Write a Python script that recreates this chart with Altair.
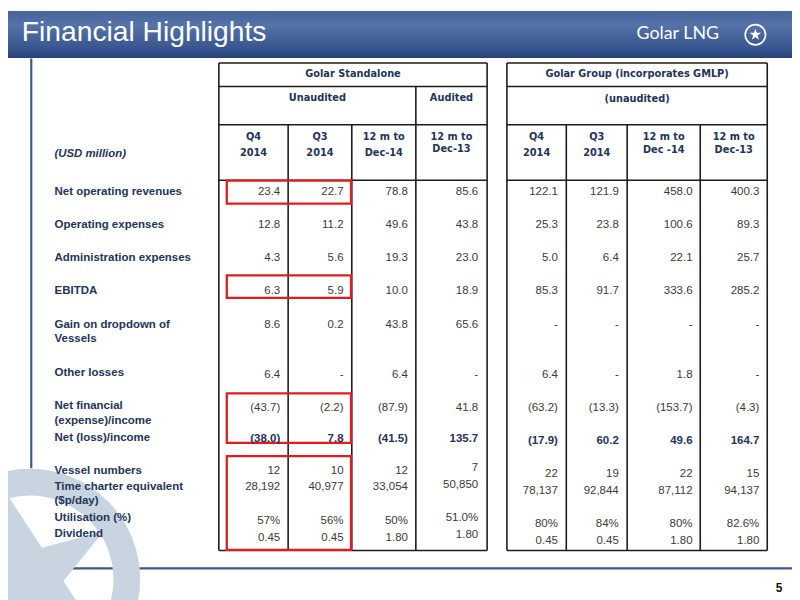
import pandas as pd
import altair as alt

# ---- slide text and table values ----
title = "Financial Highlights"
brand = "Golar LNG"
page_no = "5"
unit_label = "(USD million)"

row_labels = [
    ["Net operating revenues"],
    ["Operating expenses"],
    ["Administration expenses"],
    ["EBITDA"],
    ["Gain on dropdown of", "Vessels"],
    ["Other losses"],
    ["Net financial", "(expense)/income"],
    ["Net (loss)/income"],
    ["Vessel numbers"],
    ["Time charter equivalent", "($p/day)"],
    ["Utilisation (%)"],
    ["Dividend"],
]
bold_row = 7  # Net (loss)/income values are bold

standalone_title = "Golar Standalone"
standalone_groups = ["Unaudited", "Audited"]
standalone_cols = [["Q4", "2014"], ["Q3", "2014"], ["12 m to", "Dec-14"], ["12 m to", "Dec-13"]]
standalone_q4_14 = ["23.4", "12.8", "4.3", "6.3", "8.6", "6.4", "(43.7)", "(38.0)", "12", "28,192", "57%", "0.45"]
standalone_q3_14 = ["22.7", "11.2", "5.6", "5.9", "0.2", "-", "(2.2)", "7.8", "10", "40,977", "56%", "0.45"]
standalone_fy_14 = ["78.8", "49.6", "19.3", "10.0", "43.8", "6.4", "(87.9)", "(41.5)", "12", "33,054", "50%", "1.80"]
standalone_fy_13 = ["85.6", "43.8", "23.0", "18.9", "65.6", "-", "41.8", "135.7", "7", "50,850", "51.0%", "1.80"]

group_title = "Golar Group  (incorporates GMLP)"
group_groups = ["(unaudited)"]
group_cols = [["Q4", "2014"], ["Q3", "2014"], ["12 m to", "Dec -14"], ["12 m to", "Dec-13"]]
group_q4_14 = ["122.1", "25.3", "5.0", "85.3", "-", "6.4", "(63.2)", "(17.9)", "22", "78,137", "80%", "0.45"]
group_q3_14 = ["121.9", "23.8", "6.4", "91.7", "-", "-", "(13.3)", "60.2", "19", "92,844", "84%", "0.45"]
group_fy_14 = ["458.0", "100.6", "22.1", "333.6", "-", "1.8", "(153.7)", "49.6", "22", "87,112", "80%", "1.80"]
group_fy_13 = ["400.3", "89.3", "25.7", "285.2", "-", "-", "(4.3)", "164.7", "15", "94,137", "82.6%", "1.80"]

# ---- layout in slide pixels ----
T1_EDGES = [221, 291, 355.3, 420, 492]
T2_EDGES = [512, 572, 633.5, 707.3, 775]
H_TOP, H_MID1, H_MID2, H_BOT, T_BOT = 60.5, 84.3, 123, 179, 553
LABEL_X = 55
LABEL_Y = [190.7, 224, 257.7, 291, 325, 373.3, 407.3, 439.3, 472.3, 488.7, 520.3, 536.7]
LINE_GAP = 14.5
T1_VALUE_Y = [190.7, 224, 257.7, 291, 325, 375.7, 409, 440, 472.7, 488.7, 523.3, 540]
T1_LAST_COL_Y = [190.7, 224, 257.7, 291, 325, 375.7, 409, 440, 469.3, 486.7, 520.7, 537]
T2_VALUE_Y = [190.7, 224, 257.7, 291, 325, 375.7, 409.3, 442.7, 476, 492.7, 526.7, 543.3]
T1_RIGHT = [283, 347, 412, 483]
T2_RIGHT = [563.5, 625, 699.5, 767]
T1_HEAD2_Y = [151.7, 151.7, 151.7, 147.7]
T2_HEAD2_Y = [151.7, 151.7, 148.3, 148.3]
BOX_X = (229, 354.5)
BOX_Y = [(179.3, 202.7), (275, 297.7), (394.3, 444.3), (457.7, 552.3)]

NAVY = "#233457"
VALUE_C = "#3a3a3a"
BODY_FONT = "Liberation Sans"
HEAD_FONT = "DejaVu Sans Condensed"

xs = alt.Scale(domain=[8, 800], nice=False, zero=False)
ys = alt.Scale(domain=[8, 600], nice=False, zero=False, reverse=True)


def X(f="x"):
    return alt.X(f"{f}:Q", scale=xs, axis=None)


def Y(f="y"):
    return alt.Y(f"{f}:Q", scale=ys, axis=None)


# ---- header band ----
band = alt.Chart(pd.DataFrame({"x": [8], "x2": [800], "y": [8], "y2": [55.5]})).mark_rect(
    color=alt.Gradient(
        gradient="linear", x1=0, x2=0, y1=0, y2=1,
        stops=[alt.GradientStop(color="#46639c", offset=0),
               alt.GradientStop(color="#5473a8", offset=0.3),
               alt.GradientStop(color="#3b5890", offset=0.75),
               alt.GradientStop(color="#26427a", offset=1)],
    )
).encode(x=X(), x2="x2:Q", y=Y(), y2="y2:Q")

title_txt = alt.Chart(pd.DataFrame({"x": [22], "y": [38], "t": [title]})).mark_text(
    align="left", baseline="alphabetic", font=BODY_FONT, fontSize=28.5, color="white"
).encode(x=X(), y=Y(), text="t:N")

brand_txt = alt.Chart(pd.DataFrame({"x": [643], "y": [36], "t": [brand]})).mark_text(
    align="left", baseline="alphabetic", font="Lato", fontSize=18, color="white"
).encode(x=X(), y=Y(), text="t:N")

logo_df = pd.DataFrame({"x": [763], "y": [32]})
logo_ring = alt.Chart(logo_df).mark_point(
    shape="circle", size=420, filled=False, stroke="white", strokeWidth=1.6, opacity=1
).encode(x=X(), y=Y())
STAR = ("M0,-1L0.2245,-0.309L0.9511,-0.309L0.3633,0.118L0.5878,0.809L0,0.382"
        "L-0.5878,0.809L-0.3633,0.118L-0.9511,-0.309L-0.2245,-0.309Z")
logo_star = alt.Chart(logo_df).mark_point(
    shape=STAR, size=150, filled=True, color="white", opacity=1
).encode(x=X(), y=Y())

# ---- slide frame lines ----
frame = alt.Chart(pd.DataFrame({
    "x": [31.5, 8], "x2": [31.5, 800], "y": [56, 571], "y2": [470, 571]
})).mark_rule(color="#3d5a8c", strokeWidth=2.2).encode(x=X(), x2="x2:Q", y=Y(), y2="y2:Q")

# ---- watermark ----
wm_df = pd.DataFrame({"x": [30], "y": [582]})
wm_ring = alt.Chart(wm_df).mark_point(
    shape="circle", size=196 ** 2, filled=False, stroke="#c8d4e0", strokeWidth=27, opacity=1
).encode(x=X(), y=Y())
wm_star = alt.Chart(wm_df).mark_point(
    shape=STAR, size=178 ** 2, filled=True, color="#c8d4e0", opacity=1, angle=345
).encode(x=X(), y=Y())

# ---- table rules ----
rules = []
for edges, inner_from in [(T1_EDGES, [H_MID2, H_MID2, H_MID1]), (T2_EDGES, [H_MID2, H_MID2, H_MID2])]:
    for yy in [H_TOP, H_MID1, H_MID2, H_BOT, T_BOT]:
        rules.append({"x": edges[0], "x2": edges[-1], "y": yy, "y2": yy})
    for xx in [edges[0], edges[-1]]:
        rules.append({"x": xx, "x2": xx, "y": H_TOP, "y2": T_BOT})
    for xx, y0 in zip(edges[1:-1], inner_from):
        rules.append({"x": xx, "x2": xx, "y": y0, "y2": T_BOT})
table_rules = alt.Chart(pd.DataFrame(rules)).mark_rule(
    color="#1c1c1c", strokeWidth=1.6
).encode(x=X(), x2="x2:Q", y=Y(), y2="y2:Q")

boxes = alt.Chart(pd.DataFrame({
    "x": [BOX_X[0]] * len(BOX_Y), "x2": [BOX_X[1]] * len(BOX_Y),
    "y": [b[0] for b in BOX_Y], "y2": [b[1] for b in BOX_Y],
})).mark_rect(fillOpacity=0, stroke="#e11b1f", strokeWidth=2.3).encode(
    x=X(), x2="x2:Q", y=Y(), y2="y2:Q")

# ---- header texts ----
head = []
for edges, ttl, groups, cols, y2s in [
    (T1_EDGES, standalone_title, standalone_groups, standalone_cols, T1_HEAD2_Y),
    (T2_EDGES, group_title, group_groups, group_cols, T2_HEAD2_Y),
]:
    head.append({"x": (edges[0] + edges[-1]) / 2, "y": 72, "t": ttl})
    if len(groups) == 2:
        head.append({"x": (edges[0] + edges[3]) / 2, "y": 96, "t": groups[0]})
        head.append({"x": (edges[3] + edges[4]) / 2, "y": 96, "t": groups[1]})
    else:
        head.append({"x": (edges[0] + edges[-1]) / 2, "y": 96.5, "t": groups[0]})
    for i, (l1, l2) in enumerate(cols):
        cx = (edges[i] + edges[i + 1]) / 2
        head.append({"x": cx, "y": 135, "t": l1})
        head.append({"x": cx, "y": y2s[i], "t": l2})
head_txt = alt.Chart(pd.DataFrame(head)).mark_text(
    align="center", baseline="middle", font=HEAD_FONT, fontWeight="bold", fontSize=11, color=NAVY
).encode(x=X(), y=Y(), text="t:N")

unit_txt = alt.Chart(pd.DataFrame({"x": [LABEL_X], "y": [153], "t": [unit_label]})).mark_text(
    align="left", baseline="middle", font=BODY_FONT, fontSize=11.5, fontStyle="italic",
    fontWeight="bold", color=NAVY
).encode(x=X(), y=Y(), text="t:N")

# ---- row labels ----
lab = []
for i, lines in enumerate(row_labels):
    for j, s in enumerate(lines):
        lab.append({"x": LABEL_X, "y": LABEL_Y[i] + j * LINE_GAP, "t": s})
label_txt = alt.Chart(pd.DataFrame(lab)).mark_text(
    align="left", baseline="middle", font=BODY_FONT, fontSize=11.6, fontWeight="bold", color=NAVY
).encode(x=X(), y=Y(), text="t:N")

# ---- values ----
vals = []
t1_cols = [standalone_q4_14, standalone_q3_14, standalone_fy_14, standalone_fy_13]
t2_cols = [group_q4_14, group_q3_14, group_fy_14, group_fy_13]
for c, col in enumerate(t1_cols):
    ypos = T1_LAST_COL_Y if c == 3 else T1_VALUE_Y
    for r, v in enumerate(col):
        vals.append({"x": T1_RIGHT[c], "y": ypos[r], "t": v, "b": r == bold_row})
for c, col in enumerate(t2_cols):
    for r, v in enumerate(col):
        vals.append({"x": T2_RIGHT[c], "y": T2_VALUE_Y[r], "t": v, "b": r == bold_row})
vals = pd.DataFrame(vals)

value_txt = alt.Chart(vals[~vals["b"]]).mark_text(
    align="right", baseline="middle", font=BODY_FONT, fontSize=11.6, color=VALUE_C
).encode(x=X(), y=Y(), text="t:N")
value_bold = alt.Chart(vals[vals["b"]]).mark_text(
    align="right", baseline="middle", font=BODY_FONT, fontSize=11.6, fontWeight="bold", color=NAVY
).encode(x=X(), y=Y(), text="t:N")

page_txt = alt.Chart(pd.DataFrame({"x": [787], "y": [591], "t": [page_no]})).mark_text(
    align="center", baseline="middle", font=BODY_FONT, fontSize=12, fontWeight="bold", color="#111111"
).encode(x=X(), y=Y(), text="t:N")

chart = alt.layer(
    band, title_txt, brand_txt, logo_ring, logo_star,
    frame, wm_ring, wm_star,
    table_rules, boxes,
    head_txt, unit_txt, label_txt, value_txt, value_bold, page_txt,
).properties(
    width=792, height=592, padding=0, autosize=alt.AutoSizeParams(type="none")
).configure_view(strokeWidth=0)

chart.save("out.html", embed_options={"renderer": "svg", "actions": False})
